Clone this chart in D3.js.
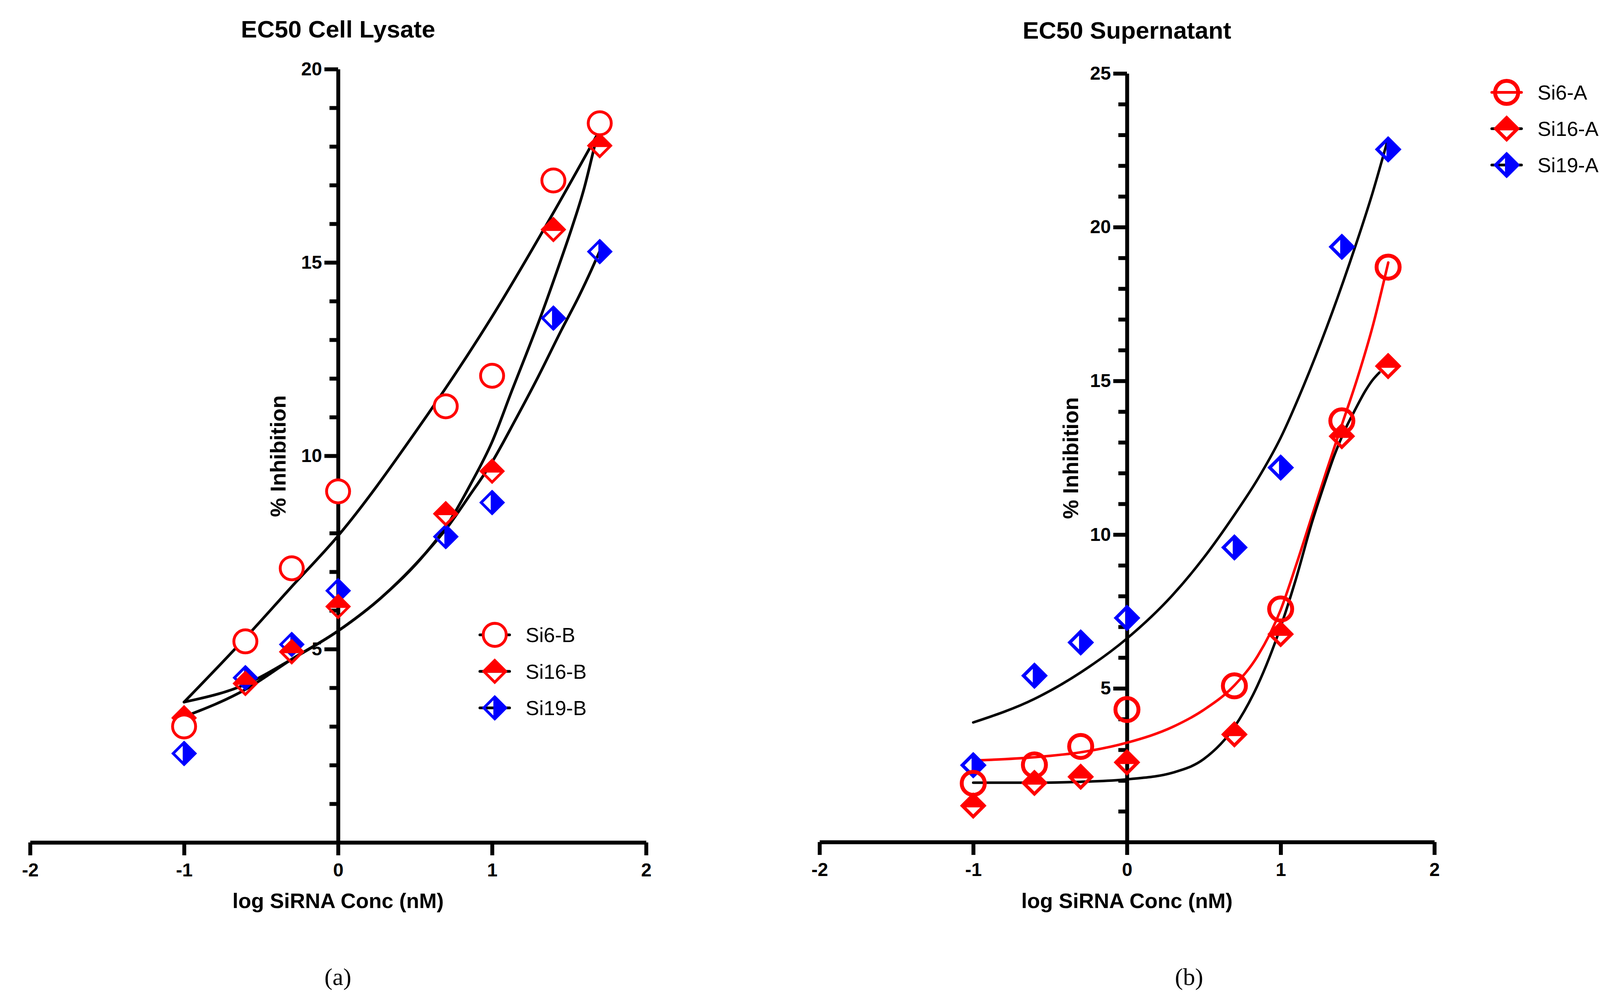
<!DOCTYPE html>
<html>
<head>
<meta charset="utf-8">
<script src="https://cdn.jsdelivr.net/npm/d3@7"></script>
<style>
  html, body { margin: 0; padding: 0; background: #fff; }
  svg { display: block; }
  text { font-family: "Liberation Sans", Arial, Helvetica, sans-serif; }
</style>
</head>
<body>
<script>
// log10 of 0.1, 0.25, 0.5, 1, 5, 10, 25, 50 nM
var logConc = [-1, -0.602, -0.301, 0, 0.699, 1, 1.398, 1.699];

// panel (a) cell lysate, % inhibition
var si6B  = [3.0, 5.2, 7.09, 9.08, 11.28, 12.07, 17.12, 18.6];
var si16B = [3.22, 4.11, 4.93, 6.1, 8.5, 9.6, 15.85, 18.02];
var si19B = [2.3, 4.26, 5.12, 6.51, 7.91, 8.79, 13.56, 15.28];

// panel (b) supernatant, % inhibition
var si6A  = [1.91, 2.51, 3.11, 4.31, 5.08, 7.58, 13.7, 18.7];
var si16A = [1.18, 1.92, 2.12, 2.59, 3.5, 6.76, 13.2, 15.48];
var si19A = [2.5, 5.41, 6.49, 7.29, 9.58, 12.18, 19.36, 22.53];

// fitted curves
var fitSi6B_x  = [-1, -0.6, -0.3, 0, 0.5, 1.0, 1.4, 1.7];
var fitSi6B_y  = [3.63, 5.3, 6.62, 7.93, 10.6, 13.6, 16.3, 18.43];
var fitSi16B_x = [-1, -0.6, -0.3, 0, 0.28, 0.57, 0.7, 0.86, 1.0, 1.13, 1.22, 1.31, 1.44, 1.52, 1.6, 1.657, 1.7];
var fitSi16B_y = [3.63, 4.09, 4.74, 5.47, 6.33, 7.49, 8.16, 9.26, 10.36, 11.7, 12.61, 13.54, 14.99, 15.92, 16.95, 17.87, 18.6];
var fitSi19B_x = [-1, -0.6, -0.3, 0, 0.28, 0.57, 0.7, 0.85, 1.0, 1.15, 1.3, 1.45, 1.567, 1.644, 1.7];
var fitSi19B_y = [3.25, 3.96, 4.74, 5.47, 6.33, 7.49, 8.1, 8.95, 9.84, 10.92, 12.05, 13.25, 14.15, 14.8, 15.3];

var fitSi6A_x  = [-1, -0.6, -0.3, 0, 0.3, 0.5, 0.7, 0.85, 1.0, 1.1, 1.2, 1.3, 1.4, 1.5, 1.6, 1.7];
var fitSi6A_y  = [2.65, 2.76, 2.92, 3.23, 3.75, 4.3, 5.1, 6.05, 7.55, 9.0, 10.55, 12.1, 13.6, 15.1, 16.8, 18.85];
var fitSi16A_x = [-1, -0.6, -0.3, 0, 0.3, 0.5, 0.7, 0.85, 1.0, 1.093, 1.207, 1.275, 1.351, 1.427, 1.478, 1.554, 1.597, 1.642];
var fitSi16A_y = [1.93, 1.93, 1.96, 2.04, 2.26, 2.7, 3.75, 5.1, 7.0, 8.45, 10.45, 11.5, 12.6, 13.5, 14.0, 14.7, 15.02, 15.27];
var fitSi19A_x = [-1, -0.6, -0.3, 0, 0.3, 0.5, 0.7, 0.85, 1.0, 1.15, 1.3, 1.45, 1.6, 1.7];
var fitSi19A_y = [3.89, 4.66, 5.52, 6.62, 8.05, 9.25, 10.65, 11.8, 13.15, 14.85, 16.75, 18.85, 21.15, 22.9];

var xTicks = [-2, -1, 0, 1, 2];
var yTicksLeft = [5, 10, 15, 20];
var yMinorLeft = [1, 2, 3, 4, 6, 7, 8, 9, 11, 12, 13, 14, 16, 17, 18, 19];
var yTicksRight = [5, 10, 15, 20, 25];
var yMinorRight = [1, 2, 3, 4, 6, 7, 8, 9, 11, 12, 13, 14, 16, 17, 18, 19, 21, 22, 23, 24];

var RED = "#ff0000", BLUE = "#0000ff";

var W = 4139, H = 2563;
var svg = d3.select("body").append("svg")
    .attr("width", W).attr("height", H)
    .attr("viewBox", "0 0 " + W + " " + H);
svg.append("rect").attr("width", W).attr("height", H).attr("fill", "#fff");

var panels = [
  {
    title: "EC50 Cell Lysate", titleY: 96, caption: "(a)", capX: 865,
    xRange: [77, 1654], yDomain: [0, 20], yRange: [2157, 177],
    yMajor: yTicksLeft, yMinor: yMinorLeft, ylabX: 731, ylabY: 1168,
    circleW: 7.3, circleFill: "#fff", diamondW: 7, lineW: 7,
    legendX: 1266.5, legendY: [1625.5, 1719, 1812.5],
    series: [
      { name: "Si6-B", kind: "circle", color: RED, ys: si6B, fx: fitSi6B_x, fy: fitSi6B_y, lineColor: "#000" },
      { name: "Si16-B", kind: "topHalf", color: RED, ys: si16B, fx: fitSi16B_x, fy: fitSi16B_y, lineColor: "#000" },
      { name: "Si19-B", kind: "rightHalf", color: BLUE, ys: si19B, fx: fitSi19B_x, fy: fitSi19B_y, lineColor: "#000" }
    ]
  },
  {
    title: "EC50 Supernatant", titleY: 99, caption: "(b)", capX: 3044,
    xRange: [2098, 3672], yDomain: [0, 25], yRange: [2156, 188],
    yMajor: yTicksRight, yMinor: yMinorRight, ylabX: 2760, ylabY: 1173,
    circleW: 10, circleFill: "none", diamondW: 8.5, lineW: 6.5,
    legendX: 3857, legendY: [236.5, 329.5, 422.5],
    series: [
      { name: "Si6-A", kind: "circle", color: RED, ys: si6A, fx: fitSi6A_x, fy: fitSi6A_y, lineColor: RED },
      { name: "Si16-A", kind: "topHalf", color: RED, ys: si16A, fx: fitSi16A_x, fy: fitSi16A_y, lineColor: "#000" },
      { name: "Si19-A", kind: "rightHalf", color: BLUE, ys: si19A, fx: fitSi19A_x, fy: fitSi19A_y, lineColor: "#000" }
    ]
  }
];

function marker(g, kind, cx, cy, color, p) {
  if (kind === "circle") {
    g.append("circle")
      .attr("cx", cx).attr("cy", cy).attr("r", 29.5)
      .attr("fill", p.circleFill).attr("stroke", color).attr("stroke-width", p.circleW);
    return;
  }
  var h = 28;
  g.append("path")
    .attr("d", "M" + (cx - h) + "," + cy + "L" + cx + "," + (cy - h) + "L" + (cx + h) + "," + cy + "L" + cx + "," + (cy + h) + "Z")
    .attr("fill", "none").attr("stroke", color).attr("stroke-width", p.diamondW)
    .attr("stroke-linejoin", "miter");
  var half = kind === "topHalf"
    ? "M" + (cx - h) + "," + cy + "L" + cx + "," + (cy - h) + "L" + (cx + h) + "," + cy + "Z"
    : "M" + cx + "," + (cy - h) + "L" + (cx + h) + "," + cy + "L" + cx + "," + (cy + h) + "Z";
  g.append("path")
    .attr("d", half)
    .attr("fill", color).attr("stroke", color).attr("stroke-width", p.diamondW)
    .attr("stroke-linejoin", "miter").attr("stroke-miterlimit", 2);
}

panels.forEach(function (p) {
  var x = d3.scaleLinear().domain([-2, 2]).range(p.xRange);
  var y = d3.scaleLinear().domain(p.yDomain).range(p.yRange);
  var g = svg.append("g");

  // x axis
  var xa = g.append("g")
    .attr("transform", "translate(0," + y(0) + ")")
    .call(d3.axisBottom(x).tickValues(xTicks).tickFormat(function (d) { return String(d); })
      .tickSize(33).tickSizeOuter(0).tickPadding(20));
  // y axis, minor then major
  var ym = g.append("g")
    .attr("transform", "translate(" + x(0) + ",0)")
    .call(d3.axisLeft(y).tickValues(p.yMinor).tickFormat("").tickSize(22).tickSizeOuter(0));
  ym.select(".domain").remove();
  var ya = g.append("g")
    .attr("transform", "translate(" + x(0) + ",0)")
    .call(d3.axisLeft(y).tickValues(p.yMajor).tickFormat(function (d) { return String(d); })
      .tickSize(35).tickSizeOuter(0).tickPadding(6));

  [xa, ym, ya].forEach(function (a) {
    a.attr("font-family", null).attr("font-size", null);
    a.selectAll(".domain").attr("stroke", "#000").attr("stroke-width", 10);
    a.selectAll(".tick line").attr("stroke", "#000").attr("stroke-width", 10);
    a.selectAll(".tick text")
      .attr("fill", "#000")
      .style("font-size", "48px").style("font-weight", "bold");
  });

  // titles
  g.append("text")
    .attr("x", x(0)).attr("y", p.titleY)
    .attr("text-anchor", "middle")
    .style("font-size", "62px").style("font-weight", "bold")
    .text(p.title);
  g.append("text")
    .attr("x", x(0)).attr("y", 2325)
    .attr("text-anchor", "middle")
    .style("font-size", "54px").style("font-weight", "bold")
    .text("log SiRNA Conc (nM)");
  g.append("text")
    .attr("transform", "translate(" + p.ylabX + "," + p.ylabY + ") rotate(-90)")
    .attr("text-anchor", "middle")
    .style("font-size", "55px").style("font-weight", "bold")
    .text("% Inhibition");
  g.append("text")
    .attr("x", p.capX).attr("y", 2522)
    .attr("text-anchor", "middle")
    .style("font-family", "'Liberation Serif', 'Times New Roman', serif")
    .style("font-size", "62px")
    .text(p.caption);

  // fitted curves
  var line = d3.line()
    .x(function (d) { return x(d[0]); })
    .y(function (d) { return y(d[1]); })
    .curve(d3.curveMonotoneX);
  p.series.forEach(function (s) {
    g.append("path")
      .datum(d3.zip(s.fx, s.fy))
      .attr("d", line)
      .attr("fill", "none")
      .attr("stroke", s.lineColor)
      .attr("stroke-width", p.lineW)
      .attr("stroke-linecap", "round")
      .attr("stroke-linejoin", "round");
  });

  // points: Si19 first, Si6 on top
  p.series.slice().reverse().forEach(function (s) {
    var mg = g.append("g");
    s.ys.forEach(function (v, i) {
      marker(mg, s.kind, x(logConc[i]), y(v), s.color, p);
    });
  });

  // legend
  p.series.forEach(function (s, i) {
    var cy = p.legendY[i], cx = p.legendX;
    g.append("line")
      .attr("x1", cx - 38).attr("x2", cx + 38)
      .attr("y1", cy).attr("y2", cy)
      .attr("stroke", s.lineColor).attr("stroke-width", 7)
      .attr("stroke-linecap", "round");
    marker(g, s.kind, cx, cy, s.color, p);
    g.append("text")
      .attr("x", cx + 79).attr("y", cy + 18.6)
      .style("font-size", "52px")
      .text(s.name);
  });
});
</script>
</body>
</html>
